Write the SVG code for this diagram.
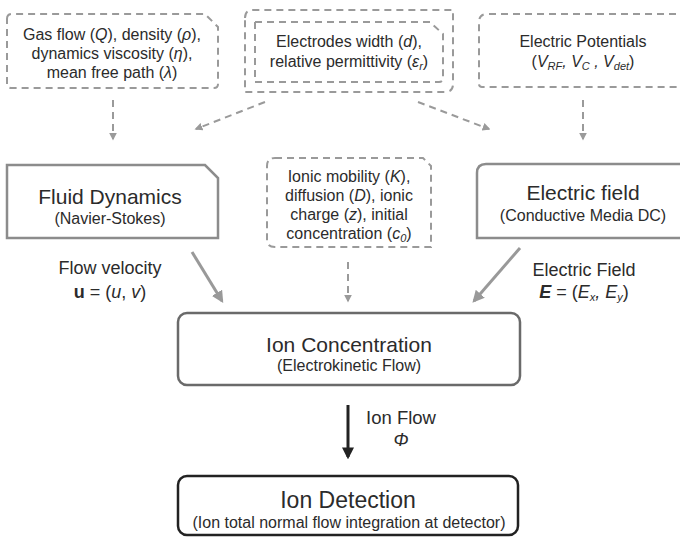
<svg xmlns="http://www.w3.org/2000/svg" width="680" height="538" viewBox="0 0 680 538">
<style>
text{font-family:"Liberation Sans",Arial,sans-serif;fill:#2b2b2b;text-anchor:middle}
.s{font-size:16px}
.b{font-size:21px}
.l{font-size:18px}
.dash{fill:none;stroke:#9a9a9a;stroke-width:2;stroke-dasharray:7,5}
.box{fill:#fff;stroke:#8c8c8c;stroke-width:2.5}
.it{font-style:italic}
.sub{font-size:11px}
</style>
<defs>
<marker id="ad" viewBox="0 0 10 10" refX="8" refY="5" markerWidth="4" markerHeight="4" orient="auto"><path d="M0,0L10,5L0,10Z" fill="#9a9a9a"/></marker>
<marker id="ag" viewBox="0 0 10 10" refX="8" refY="5" markerWidth="4" markerHeight="4" orient="auto"><path d="M0,0L10,5L0,10Z" fill="#999"/></marker>
<marker id="ab" viewBox="0 0 10 10" refX="8" refY="5" markerWidth="4" markerHeight="4" orient="auto"><path d="M0,0L10,5L0,10Z" fill="#222"/></marker>
</defs>
<g id="connectors">
<line class="dash" x1="113" y1="100" x2="113" y2="139" marker-end="url(#ad)"/>
<line class="dash" x1="583" y1="100" x2="583" y2="139" marker-end="url(#ad)"/>
<line class="dash" x1="265" y1="102" x2="196" y2="129" marker-end="url(#ad)"/>
<line class="dash" x1="418" y1="102" x2="489" y2="129" marker-end="url(#ad)"/>
<line class="dash" x1="348" y1="262" x2="348" y2="301" marker-end="url(#ad)"/>
<line x1="192" y1="252" x2="222" y2="301" stroke="#999" stroke-width="3" marker-end="url(#ag)"/>
<line x1="520" y1="248" x2="474" y2="301" stroke="#999" stroke-width="3" marker-end="url(#ag)"/>
<line x1="348" y1="405" x2="348" y2="457" stroke="#222" stroke-width="3" marker-end="url(#ab)"/>
</g>
<g id="gas">
<path class="dash" d="M7,19 Q7,14 12,14 L205,14 L218,27 L218,84 Q218,88 214,88 L11,88 Q7,88 7,84 Z"/>
<text class="s" x="112" y="40">Gas flow (<tspan class="it">Q</tspan>), density (<tspan class="it">ρ</tspan>),</text>
<text class="s" x="112" y="59">dynamics viscosity (<tspan class="it">η</tspan>),</text>
<text class="s" x="112" y="78">mean free path (<tspan class="it">λ</tspan>)</text>
</g>
<g id="electrodes">
<path class="dash" d="M245,18 Q245,10 253,10 L453,10 L453,84 Q453,92 445,92 L245,92 Z"/>
<path class="dash" d="M255,22 L430,22 L443,34 L443,78 Q443,82 439,82 L255,82 Z"/>
<text class="s" x="349" y="47">Electrodes width (<tspan class="it">d</tspan>),</text>
<text class="s" x="349" y="67">relative permittivity (<tspan class="it">ε<tspan class="sub" dy="3">r</tspan></tspan><tspan dy="-3">)</tspan></text>
</g>
<g id="potentials">
<path class="dash" d="M700,14 L487,14 Q479,14 479,22 L479,84 Q479,87 482,87 L700,87"/>
<text class="s" x="583" y="47">Electric Potentials</text>
<text class="s" x="583" y="67">(<tspan class="it">V<tspan class="sub" dy="3">RF</tspan><tspan dy="-3">, V</tspan><tspan class="sub" dy="3">C</tspan><tspan dy="-3"> , V</tspan><tspan class="sub" dy="3">det</tspan></tspan><tspan dy="-3">)</tspan></text>
</g>
<g id="fluid">
<path class="box" d="M7,165 L205,165 L218,178 L218,238 L7,238 Z"/>
<text class="b" x="110" y="204">Fluid Dynamics</text>
<text class="s" x="110" y="224">(Navier-Stokes)</text>
</g>
<g id="ionic">
<path class="dash" d="M275,158 L423,158 L431,166 L431,247 L275,247 Q267,247 267,240 L267,166 Q267,158 275,158 Z"/>
<text class="s" x="349" y="182">Ionic mobility (<tspan class="it">K</tspan>),</text>
<text class="s" x="349" y="201">diffusion (<tspan class="it">D</tspan>), ionic</text>
<text class="s" x="349" y="220">charge (<tspan class="it">z</tspan>), initial</text>
<text class="s" x="349" y="239">concentration (<tspan class="it">c<tspan class="sub" dy="3">0</tspan></tspan><tspan dy="-3">)</tspan></text>
</g>
<g id="efield">
<path class="box" d="M700,164 L486,164 Q477,164 477,173 L477,238 L700,238"/>
<text class="b" x="583" y="200">Electric field</text>
<text class="s" x="583" y="221">(Conductive Media DC)</text>
</g>
<g id="flowlabel">
<text class="l" x="110" y="274">Flow velocity</text>
<text class="l" x="110" y="298"><tspan font-weight="bold">u</tspan> = (<tspan class="it">u</tspan>, <tspan class="it">v</tspan>)</text>
</g>
<g id="efieldlabel">
<text class="l" x="584" y="276">Electric Field</text>
<text class="l" x="584" y="298"><tspan font-weight="bold" font-style="italic">E</tspan> = (<tspan class="it">E<tspan class="sub" dy="3">x</tspan><tspan dy="-3">, E</tspan><tspan class="sub" dy="3">y</tspan></tspan><tspan dy="-3">)</tspan></text>
</g>
<g id="concentration">
<rect x="178" y="313" width="342" height="72" rx="9" fill="#fff" stroke="#6a6a6a" stroke-width="2.5"/>
<text class="b" x="349" y="352">Ion Concentration</text>
<text class="s" x="349" y="371">(Electrokinetic Flow)</text>
</g>
<g id="flowlbl">
<text x="401" y="424" font-size="18.5px">Ion Flow</text>
<text class="l it" x="401" y="446">Φ</text>
</g>
<g id="detection">
<rect x="178" y="476" width="340" height="59" rx="9" fill="#fff" stroke="#222" stroke-width="2.5"/>
<text x="348" y="508" font-size="23px">Ion Detection</text>
<text x="349" y="528" font-size="16px">(Ion total normal flow integration at detector)</text>
</g>
</svg>
